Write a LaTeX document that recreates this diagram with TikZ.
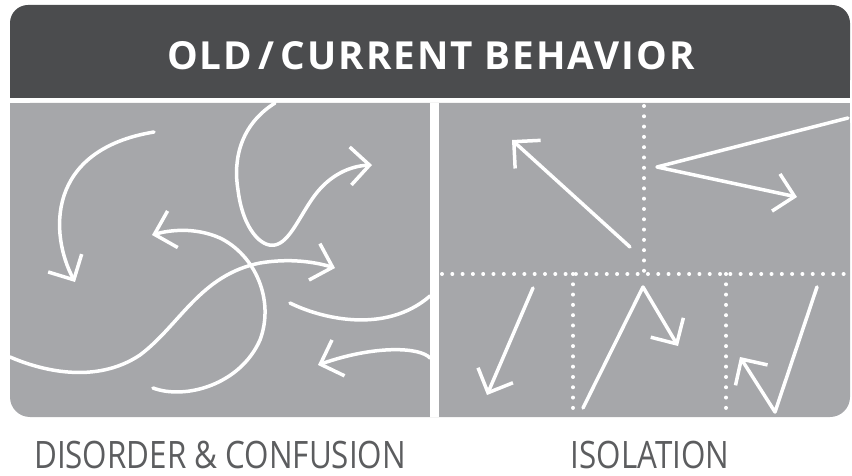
\documentclass[tikz,border=0pt]{standalone}
\usepackage{fontspec}
\setmainfont{Open Sans}
\newfontfamily\headfont[LetterSpace=5]{Open Sans}
\newfontfamily\labelfont[FakeStretch=0.83]{Open Sans}
\usetikzlibrary{arrows.meta}
\definecolor{hdr}{RGB}{75,76,78}
\definecolor{pnl}{RGB}{166,167,170}
\definecolor{lbl}{RGB}{92,93,95}

\begin{document}
\begin{tikzpicture}[x=0.02cm, y=-0.02cm,
  line/.style = {white, line width=0.07cm, line cap=round, line join=round},
  arr/.style = {line, -{Straight Barb[length=0.38cm, width=0.76cm]}},
  dots/.style = {white, line width=0.08cm, line cap=round, dash pattern=on 0pt off 0.206cm}]

\useasboundingbox (0,0) rectangle (852,476);

%% header and panels
\fill[hdr, rounded corners=0.36cm] (10,5) rectangle (850,98);
\fill[hdr] (10,60) rectangle (850,98);
\fill[pnl, rounded corners=0.4cm] (10,103) rectangle (850,417);
\fill[pnl] (10,103) rectangle (850,300);
\fill[white] (430,103) rectangle (439,417);

%% texts
\node[anchor=base, white, inner sep=0, font=\headfont\bfseries\fontsize{22}{26}\selectfont] (title) at (431,70) {OLD\,/\,CURRENT BEHAVIOR};
\node[anchor=base, lbl, inner sep=0, font=\labelfont\fontsize{21.5}{26}\selectfont] (disorder) at (220,468) {DISORDER \& CONFUSION};
\node[anchor=base, lbl, inner sep=0, font=\labelfont\fontsize{21.5}{26}\selectfont] (isolation) at (650,468) {ISOLATION};

%%% disorder arrows
\draw[arr] (154,132) .. controls (45,150) and (50,235) .. (75,282);
\draw[arr] (275,103) .. controls (240,125) and (233,160) .. (238,190)
  .. controls (243,230) and (262,248) .. (275,245)
  .. controls (290,242) and (300,215) .. (315,195)
  .. controls (330,175) and (350,166) .. (372,165);
\draw[arr] (10,357) .. controls (40,370) and (95,385) .. (140,355)
  .. controls (180,325) and (200,275) .. (260,263)
  .. controls (290,258) and (315,262) .. (335,268);
\draw[arr] (153,388) .. controls (185,400) and (240,385) .. (260,340)
  .. controls (275,300) and (255,255) .. (220,238)
  .. controls (195,227) and (170,230) .. (152,235);
\draw[line] (290,303) .. controls (320,318) and (385,335) .. (430,296);
\draw[arr] (430,358) .. controls (420,347) and (375,345) .. (318,365);

%%% isolation grid
\draw[dots] (644,106) -- (644,274);
\draw[dots] (442,274) -- (850,274);
\draw[dots] (573,274) -- (573,417);
\draw[dots] (726,274) -- (726,417);

%%% isolation arrows
\draw[arr] (630,247) -- (512,140);
\draw[arr] (848,118) -- (657,167) -- (797,197);
\draw[arr] (533,288) -- (487,395);
\draw[arr] (583,408) -- (643,287) -- (678,346);
\draw[arr] (817,287) -- (775,412) -- (740,357);

\end{tikzpicture}
\end{document}
